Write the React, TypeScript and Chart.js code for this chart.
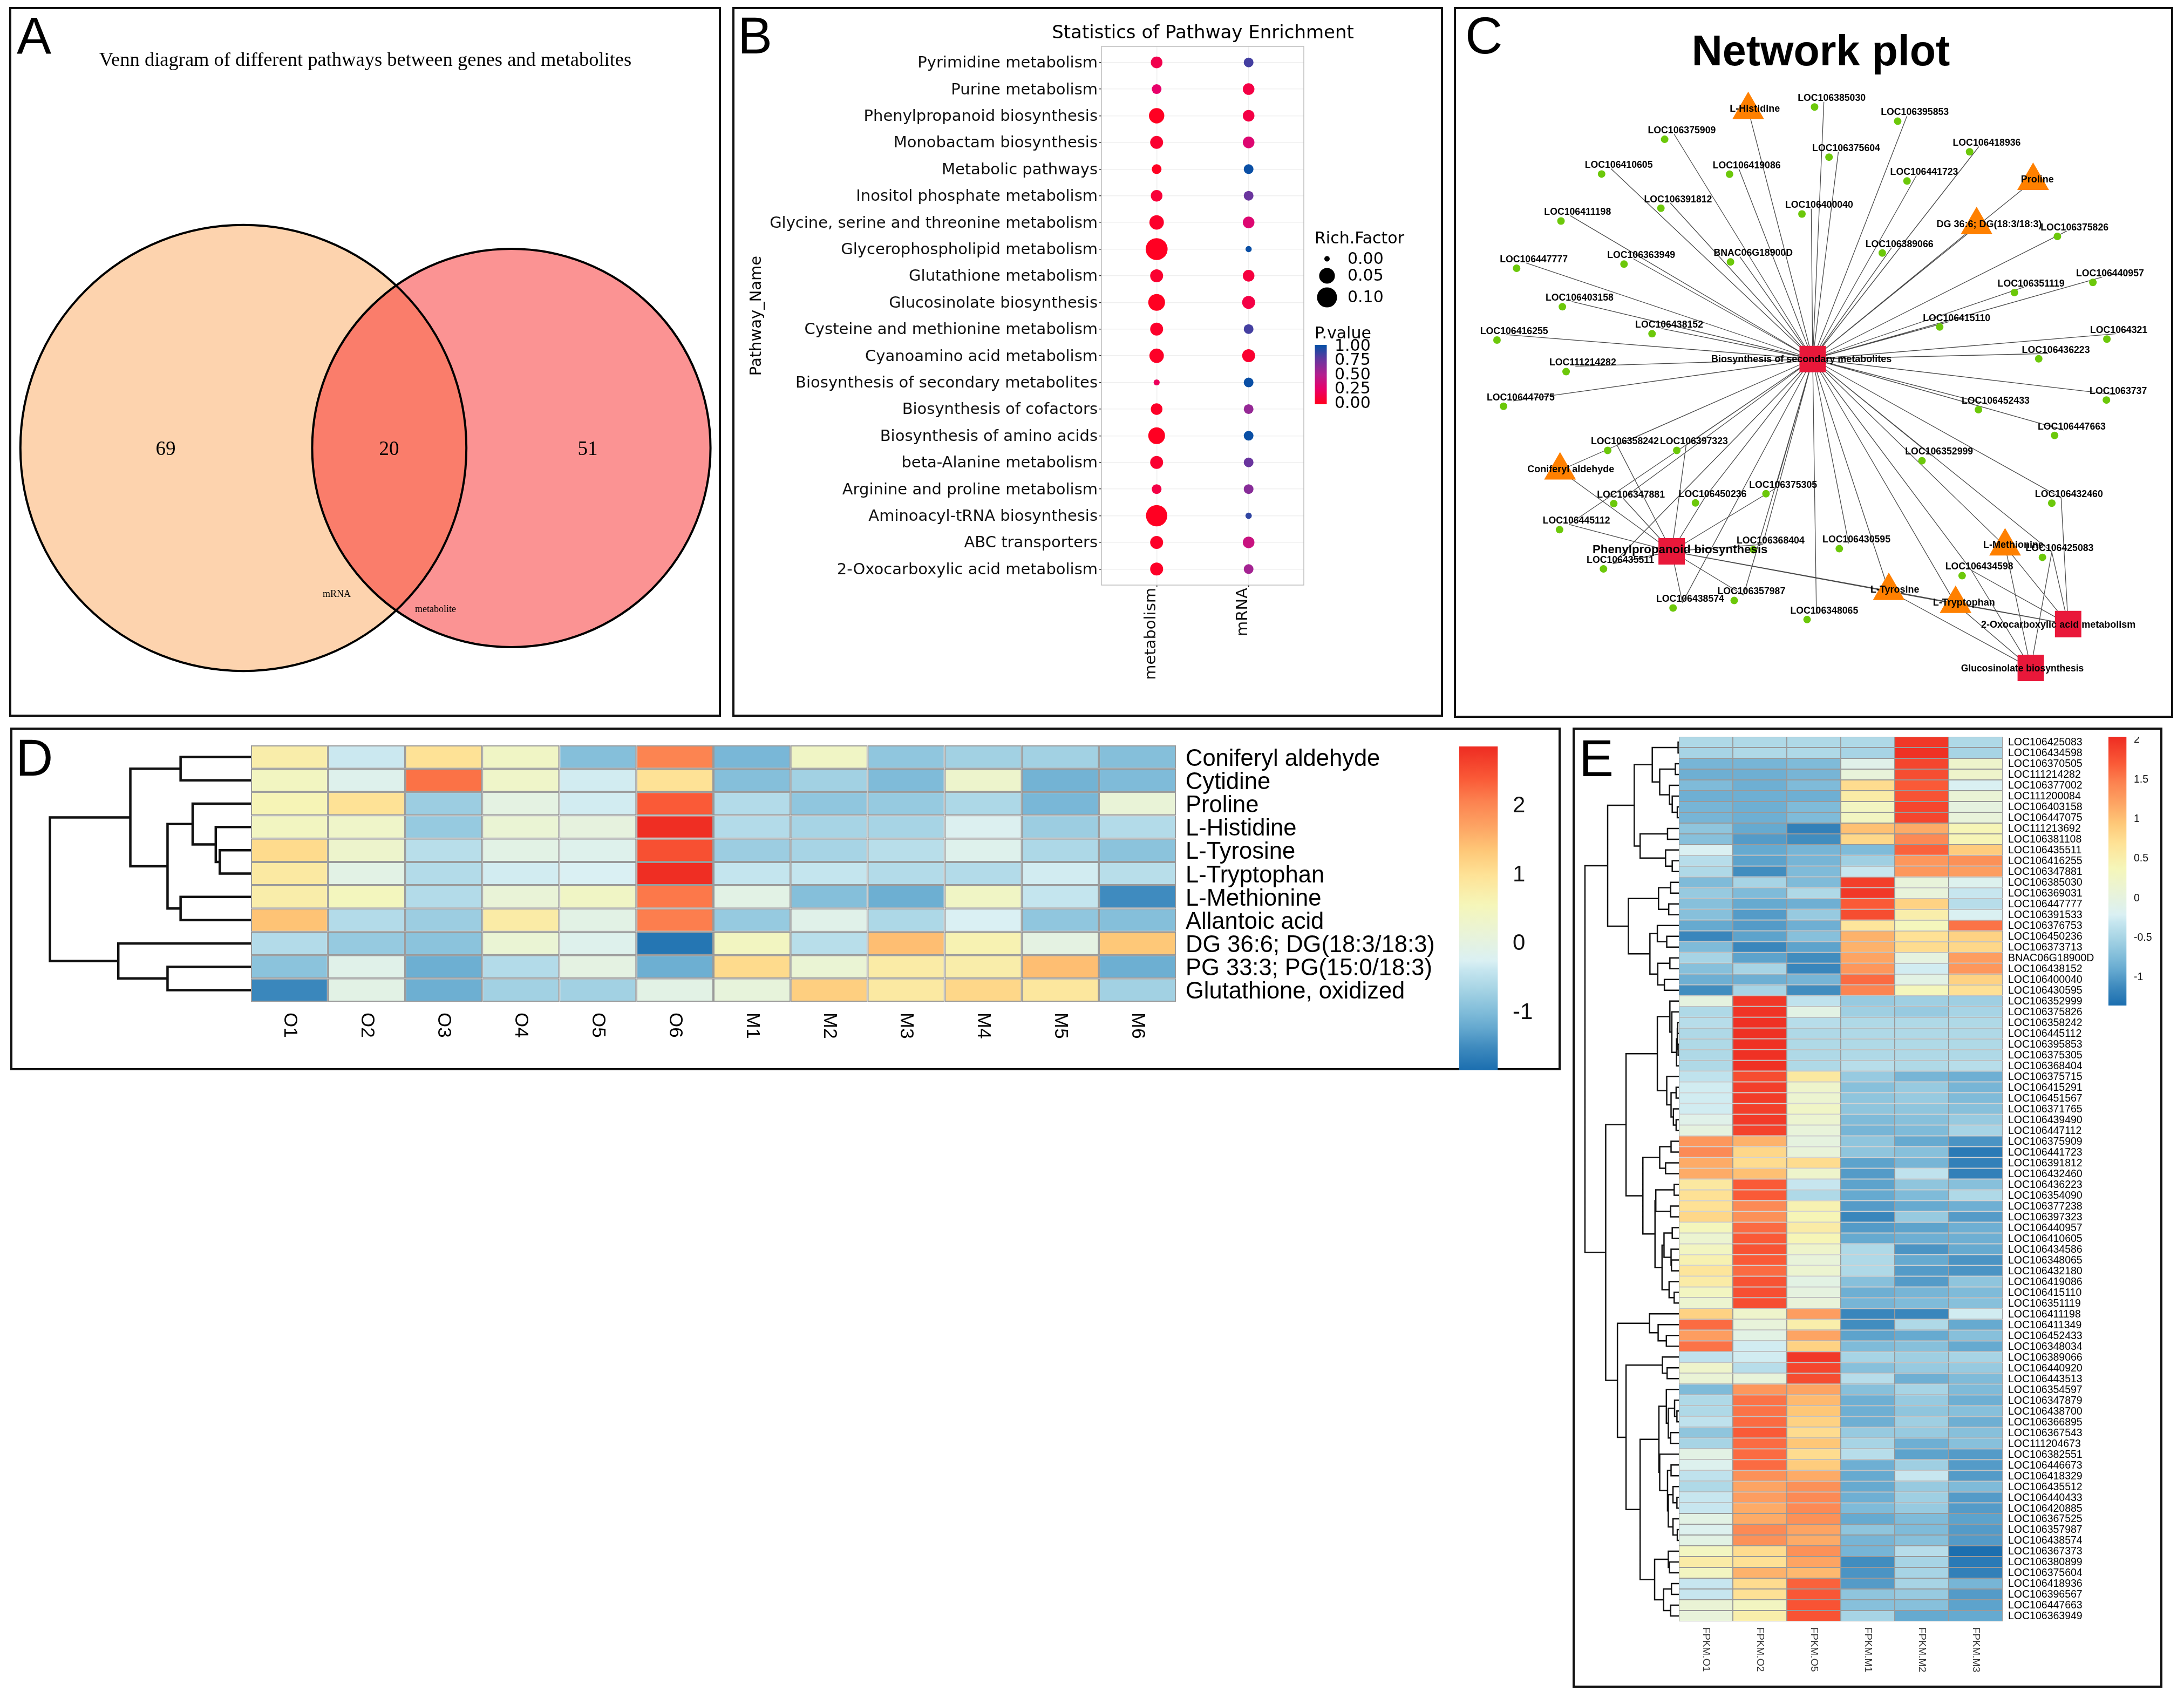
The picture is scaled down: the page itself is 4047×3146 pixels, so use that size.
import React, { useEffect, useRef } from "react";
import { Chart, registerables } from "chart.js";
Chart.register(...registerables);

const SANS = "'Liberation Sans'";
const SERIF = "'Liberation Serif'";
const DEJA = "'DejaVu Sans'";

/* ---------- Panel A ---------- */
const vennSets = [89, 71];
const vennX = [451, 947.5];
const vennY = [830, 830];
const vennOnly = ["69", "20", "51"];

/* ---------- Panel B ---------- */
const pathways = ["Pyrimidine metabolism","Purine metabolism","Phenylpropanoid biosynthesis","Monobactam biosynthesis","Metabolic pathways","Inositol phosphate metabolism","Glycine, serine and threonine metabolism","Glycerophospholipid metabolism","Glutathione metabolism","Glucosinolate biosynthesis","Cysteine and methionine metabolism","Cyanoamino acid metabolism","Biosynthesis of secondary metabolites","Biosynthesis of cofactors","Biosynthesis of amino acids","beta-Alanine metabolism","Arginine and proline metabolism","Aminoacyl-tRNA biosynthesis","ABC transporters","2-Oxocarboxylic acid metabolism"];
const omics = ["metabolism", "mRNA"];
const richMetabolism = [0.018,0.0087,0.046,0.0265,0.0087,0.018,0.038,0.127,0.0265,0.06,0.0265,0.038,0.0002,0.018,0.06,0.0265,0.0087,0.118,0.0265,0.0265];
const richMrna = [0.0087,0.018,0.018,0.018,0.0087,0.0087,0.018,0.0003,0.018,0.0265,0.0087,0.0265,0.0087,0.0087,0.0087,0.0087,0.0087,0.0004,0.018,0.0087];
const pMetabolism = [0.15,0.25,0,0.05,0,0.08,0.03,0,0.05,0,0.03,0.02,0.2,0.02,0,0.05,0.12,0,0.02,0.02];
const pMrna = [0.85,0.12,0.12,0.3,1,0.75,0.3,1,0.1,0.12,0.85,0.05,1,0.6,1,0.75,0.65,0.9,0.4,0.55];
const richLegend = [0, 0.05, 0.1];
const pLegend = [1, 0.75, 0.5, 0.25, 0];

/* ---------- Panel C (layout units) ---------- */
const geneNodes: [string, number, number][] = [
  ["LOC106385030",777,444],["LOC106395853",955,503],["LOC106375909",456,578],["LOC106375604",808,652],["LOC106418936",1109,630],
  ["LOC106410605",321,722],["LOC106419086",595,723],["LOC106441723",975,751],["LOC106391812",448,864],["LOC106400040",750,888],
  ["LOC106411198",234,917],["LOC106375826",1297,981],["LOC106389066",922,1050],["LOC106447777",139,1113],["LOC106363949",369,1096],
  ["BNAC06G18900D",597,1087],["LOC106440957",1373,1172],["LOC106351119",1205,1214],["LOC106403158",237,1273],["LOC106415110",1045,1357],
  ["LOC106438152",429,1385],["LOC106416255",97,1411],["LOC1064321",1403,1407],["LOC106436223",1257,1489],["LOC111214282",245,1542],
  ["LOC1063737",1402,1660],["LOC106447075",111,1686],["LOC106452433",1128,1700],["LOC106447663",1291,1807],["LOC106358242",334,1869],
  ["LOC106397323",482,1869],["LOC106352999",1007,1912],["LOC106375305",673,2049],["LOC106347881",347,2090],["LOC106450236",522,2087],
  ["LOC106432460",1285,2088],["LOC106445112",231,2198],["LOC106368404",646,2281],["LOC106430595",830,2277],["LOC106425083",1265,2313],
  ["LOC106435511",325,2361],["LOC106434598",1093,2389],["LOC106357987",605,2492],["LOC106438574",474,2523],["LOC106348065",761,2571],
];
const metaboliteNodes: [string, number, number, number, number][] = [
  ["L-Histidine",635,456,649,453],["Proline",1245,750,1254,746],["DG 36:6; DG(18:3/18:3)",1124,934,1151,931],
  ["Coniferyl aldehyde",232,1952,255,1948],["L-Methionine",1185,2267,1203,2263],["L-Tyrosine",936,2452,949,2448],["L-Tryptophan",1079,2506,1097,2502],
];
const pathwayNodes: [string, number, number, number, number, number][] = [
  ["Biosynthesis of secondary metabolites",773,1490,749,1492,18],["Phenylpropanoid biosynthesis",471,2288,489,2282,22.3],
  ["2-Oxocarboxylic acid metabolism",1320,2590,1299,2593,18],["Glucosinolate biosynthesis",1240,2772,1222,2775,17.5],
];
const edgesSecondary = ["LOC106385030","LOC106395853","LOC106375909","LOC106375604","LOC106418936","LOC106410605","LOC106419086","LOC106441723","LOC106391812","LOC106400040","LOC106411198","LOC106375826","LOC106389066","LOC106447777","LOC106363949","BNAC06G18900D","LOC106440957","LOC106351119","LOC106403158","LOC106415110","LOC106438152","LOC106416255","LOC1064321","LOC106436223","LOC111214282","LOC1063737","LOC106447075","LOC106452433","LOC106447663","LOC106358242","LOC106397323","LOC106352999","LOC106375305","LOC106347881","LOC106450236","LOC106432460","LOC106445112","LOC106368404","LOC106430595","LOC106425083","LOC106435511","LOC106434598","LOC106357987","LOC106438574","LOC106348065","L-Histidine","Proline","DG 36:6; DG(18:3/18:3)","Coniferyl aldehyde","L-Methionine","L-Tyrosine","L-Tryptophan"];
const edgesPhenyl = ["LOC106358242","LOC106397323","LOC106347881","LOC106450236","LOC106375305","Coniferyl aldehyde","LOC106445112","LOC106435511","LOC106368404","LOC106357987","LOC106438574","L-Tyrosine","L-Tryptophan"];
const edgesOxo = ["L-Tyrosine","L-Tryptophan","L-Methionine","LOC106434598","LOC106425083","LOC106432460"];
const edgesGluco = ["L-Tyrosine","L-Tryptophan","L-Methionine","LOC106425083","LOC106434598"];

/* ---------- Panel D ---------- */
const metabolites = ["Coniferyl aldehyde","Cytidine","Proline","L-Histidine","L-Tyrosine","L-Tryptophan","L-Methionine","Allantoic acid","DG 36:6; DG(18:3/18:3)","PG 33:3; PG(15:0/18:3)","Glutathione, oxidized"];
const samplesD = ["O1","O2","O3","O4","O5","O6","M1","M2","M3","M4","M5","M6"];
const valuesD = [
  [0.75,-0.35,1.0,0.4,-0.95,2.05,-1.05,0.4,-0.85,-0.7,-0.7,-0.95],
  [0.45,-0.15,2.2,0.35,-0.3,1.0,-0.95,-0.7,-1.0,0.3,-1.1,-1.0],
  [0.6,1.0,-0.75,0.0,-0.3,2.4,-0.55,-0.85,-0.8,-0.6,-1.05,0.15],
  [0.45,0.35,-0.8,0.2,0.05,2.85,-0.55,-0.65,-0.65,-0.2,-0.75,-0.55],
  [1.1,0.3,-0.5,-0.05,-0.15,2.5,-0.75,-0.65,-0.5,-0.15,-0.6,-0.9],
  [0.85,-0.05,-0.55,-0.3,-0.25,2.85,-0.4,-0.4,-0.55,-0.55,-0.3,-0.5],
  [0.75,0.5,-0.55,0.15,0.4,2.15,-0.05,-0.95,-1.15,0.4,-0.4,-1.5],
  [1.4,-0.55,-0.75,0.8,-0.05,2.1,-0.8,-0.1,-0.6,-0.25,-0.85,-0.95],
  [-0.55,-0.8,-0.9,0.2,-0.15,-1.75,0.45,-0.5,1.45,0.65,0,1.35],
  [-0.9,-0.1,-1.15,-0.55,0,-1.15,1.1,0.2,0.8,0.75,1.45,-1.15],
  [-1.55,-0.05,-1.15,-0.7,-0.7,-0.05,0.1,1.25,0.85,1.15,0.9,-0.7],
];
const rangeD: [number, number] = [-1.84, 2.87];
const ticksD = [-1, 0, 1, 2];
const treeD: any = [200,[120,[70,0,1],[83,[58,2,[35,3,[31,4,5]]],[70,6,7]]],[132,8,[83,9,10]]];

/* ---------- Panel E ---------- */
const genes = ["LOC106425083","LOC106434598","LOC106370505","LOC111214282","LOC106377002","LOC111200084","LOC106403158","LOC106447075","LOC111213692","LOC106381108","LOC106435511","LOC106416255","LOC106347881","LOC106385030","LOC106369031","LOC106447777","LOC106391533","LOC106376753","LOC106450236","LOC106373713","BNAC06G18900D","LOC106438152","LOC106400040","LOC106430595","LOC106352999","LOC106375826","LOC106358242","LOC106445112","LOC106395853","LOC106375305","LOC106368404","LOC106375715","LOC106415291","LOC106451567","LOC106371765","LOC106439490","LOC106447112","LOC106375909","LOC106441723","LOC106391812","LOC106432460","LOC106436223","LOC106354090","LOC106377238","LOC106397323","LOC106440957","LOC106410605","LOC106434586","LOC106348065","LOC106432180","LOC106419086","LOC106415110","LOC106351119","LOC106411198","LOC106411349","LOC106452433","LOC106348034","LOC106389066","LOC106440920","LOC106443513","LOC106354597","LOC106347879","LOC106438700","LOC106366895","LOC106367543","LOC111204673","LOC106382551","LOC106446673","LOC106418329","LOC106435512","LOC106440433","LOC106420885","LOC106367525","LOC106357987","LOC106438574","LOC106367373","LOC106380899","LOC106375604","LOC106418936","LOC106396567","LOC106447663","LOC106363949"];
const samplesE = ["FPKM.O1","FPKM.O2","FPKM.O5","FPKM.M1","FPKM.M2","FPKM.M3"];
const valuesE = [
[-.45,-.45,-.45,-.45,1.95,-.45],[-.5,-.45,-.45,-.5,2.0,-.5],[-.8,-.8,-.75,-.1,1.85,.2],[-.85,-.85,-.8,.05,1.8,.2],[-.75,-.85,-.75,.75,1.7,-.2],[-.85,-.85,-.85,.55,1.75,.1],[-.8,-.85,-.75,.3,1.85,0],[-.8,-.85,-.75,.3,1.85,.05],
[-.65,-.9,-1.2,1.0,1.15,.4],[-.7,-1.0,-1.1,.8,1.4,.4],[-.2,-.9,-.8,-.75,1.65,.9],[-.4,-.95,-.8,-.55,1.3,1.35],[-.45,-1.1,-.75,-.3,1.3,1.25],
[-.75,-.5,-.75,1.9,.05,-.15],[-.6,-.75,-.45,1.95,.05,-.3],[-.7,-.9,-.85,1.7,.85,-.4],[-.7,-1.0,-.6,1.8,.5,-.2],[-.9,-1.0,-.85,.65,.35,1.55],[-1.15,-.95,-.7,1.1,.7,.85],[-.75,-1.15,-.95,1.1,.75,.8],[-.5,-.95,-1.1,1.2,.0,1.25],[-.7,-.5,-1.15,1.3,-.25,1.3],[-.85,-.85,-.8,1.6,-.05,.85],[-1.1,-.5,-1.1,1.45,.35,.7],
[0,1.95,-.35,-.6,-.55,-.55],[-.45,1.98,-.05,-.55,-.6,-.5],[-.4,2,-.4,-.45,-.45,-.45],[-.45,2,-.45,-.45,-.45,-.45],[-.45,2,-.45,-.45,-.45,-.45],[-.45,2,-.45,-.45,-.45,-.45],[-.45,2,-.45,-.4,-.45,-.4],
[-.35,1.8,.6,-.6,-.8,-.85],[-.25,1.9,.2,-.7,-.6,-.8],[-.25,1.92,.15,-.65,-.6,-.75],[-.25,1.9,.25,-.65,-.65,-.7],[-.1,1.93,.15,-.75,-.7,-.6],[0,1.88,.05,-.8,-.75,-.5],
[1.3,1.1,0,-.65,-.9,-1.05],[1.4,.8,.05,-.65,-.7,-1.25],[1.15,.75,.75,-.95,-.8,-1.2],[1.15,1.0,.2,-1.0,-.35,-1.2],[.6,1.7,-.3,-.95,-.65,-.7],[.7,1.7,-.45,-.9,-.75,-.45],[.7,1.4,.45,-1.0,-.9,-.85],[.8,1.35,.4,-1.15,-.6,-1.0],[.35,1.6,.55,-1.0,-.95,-.85],[.15,1.7,.4,-.9,-.85,-.85],[.3,1.75,.2,-.45,-1.05,-.9],[.45,1.7,.05,-.45,-.9,-1.05],[.65,1.6,.15,-.45,-1.0,-1.05],[.55,1.75,-.05,-.7,-1.0,-.65],[.3,1.78,0,-.85,-.8,-.75],[.15,1.8,.05,-.8,-.75,-.7],
[.85,.2,1.25,-1.15,-1.15,-.25],[1.6,.05,.5,-1.1,-.45,-.9],[1.25,-.05,1.2,-.95,-.9,-.7],[1.55,-.25,.85,-.75,-.7,-.9],[-.35,-.25,1.95,-.5,-.55,-.5],[.2,-.4,1.85,-.7,-.6,-.6],[.1,.05,1.8,-.4,-.85,-.75],
[-.75,1.3,1.2,-.7,-.5,-.75],[-.45,1.55,1.05,-.85,-.6,-.85],[-.45,1.55,.95,-.85,-.65,-.7],[-.35,1.6,.85,-.85,-.55,-.85],[-.65,1.7,.75,-.6,-.6,-.7],[-.5,1.6,.95,-.5,-.85,-.7],[-.05,1.6,.75,-.4,-.95,-1.0],[-.15,1.6,.9,-.85,-.55,-1.0],[-.35,1.35,1.15,-.9,-.3,-1.0],[-.45,1.2,1.35,-.9,-.6,-.75],[-.3,1.25,1.4,-.85,-.55,-1.0],[-.3,1.15,1.4,-.75,-.6,-1.0],[-.05,1.15,1.35,-.9,-.75,-.95],[-.15,1.4,1.2,-.65,-.75,-1.0],[-.05,1.35,1.15,-.8,-.7,-1.0],
[.3,.75,1.35,-.8,-.4,-1.35],[.55,.7,1.2,-1.1,-.5,-1.25],[.3,1.1,1.05,-1.05,-.5,-1.2],[-.3,.75,1.65,-1.0,-.5,-.8],[-.3,.7,1.72,-.65,-.6,-1.0],[.1,.3,1.75,-.7,-.7,-.95],[.05,.5,1.75,-.5,-.9,-.9],
];
const rangeE: [number, number] = [-1.355, 2.04];
const ticksE = [-1, -0.5, 0, 0.5, 1, 1.5, 2];
const treeE: any = [240,
  [182,
    [114,
      [68,[2,0,1],[49,[9,2,3],[24,4,[17,5,[4,6,7]]]]],
      [99,[29,8,9],[34,10,[17,11,12]]]],
    [129,
      [52,[21,13,14],[26,15,16]],
      [74,[55,17,[31,18,19]],[54,[23,20,21],[37,22,23]]]]],
  [187,
    [135,
      [55,[23,24,[18,25,[6,[4,[3,26,27],[2,28,29]],30]]],[31,31,[20,[7,32,33],[14,34,[7,35,36]]]]],
      [92,[49,[20,37,38],[34,39,40]],
        [61,[59,[12,41,42],[21,43,44]],
          [43,[38,[17,45,46],[20,47,[19,48,49]]],[25,50,[12,51,52]]]]]],
    [157,
      [75,53,[53,54,[32,55,56]]],
      [135,
        [42,57,[30,58,59]],
        [99,
          [51,[32,60,[27,[11,61,[5,62,63]],[21,64,65]]],
            [49,66,[29,[20,67,68],[27,[15,69,[5,70,71]],[15,72,[4,73,74]]]]]],
          [62,[27,75,[24,76,77]],[39,[19,78,79],[21,80,81]]]]]]]];

/* ---------- colour helpers ---------- */
const rampStops: [number, number[]][] = [
  [0,[27,110,175]],[0.07,[62,138,190]],[0.13,[100,168,207]],[0.18,[128,188,217]],[0.248,[165,211,228]],[0.31,[198,230,239]],[0.338,[218,240,243]],
  [0.415,[232,243,218]],[0.51,[245,246,185]],[0.603,[254,226,150]],[0.677,[254,200,120]],[0.75,[253,165,100]],[0.83,[252,130,80]],[0.9,[250,90,55]],[1,[238,44,34]],
];
const pStops: [number, number[]][] = [
  [0,[255,0,34]],[0.25,[232,0,106]],[0.5,[178,31,143]],[0.75,[106,53,158]],[1,[10,79,165]],
];
function interp(stops: [number, number[]][], t: number) {
  const v = Math.min(1, Math.max(0, t));
  for (let i = 1; i < stops.length; i++) {
    if (v <= stops[i][0]) {
      const [a, ca] = stops[i - 1];
      const [b, cb] = stops[i];
      const f = (v - a) / (b - a);
      return `rgb(${ca.map((c, k) => Math.round(c + (cb[k] - c) * f)).join(",")})`;
    }
  }
  return `rgb(${stops[stops.length - 1][1].join(",")})`;
}
const heatColor = (v: number, r: [number, number]) => interp(rampStops, (v - r[0]) / (r[1] - r[0]));
const richRadius = (x: number) => 5 + 43 * Math.sqrt(x);

/* ---------- generic text plugin ---------- */
type T = { t: string; x: number; y: number; font: string; color?: string; align?: any; rot?: number; base?: any };
const textPlugin = (items: (c: any) => T[]) => ({
  id: "texts",
  afterDatasetsDraw(c: any) {
    const g = c.ctx;
    for (const i of items(c)) {
      g.save();
      g.translate(i.x, i.y);
      if (i.rot) g.rotate(i.rot);
      g.font = i.font;
      g.fillStyle = i.color || "#000";
      g.textAlign = i.align || "center";
      g.textBaseline = i.base || "middle";
      g.fillText(i.t, 0, 0);
      g.restore();
    }
  },
});

const baseOpts: any = {
  responsive: false,
  animation: false,
  devicePixelRatio: 1,
  events: [],
  layout: { autoPadding: false },
  plugins: { legend: { display: false }, tooltip: { enabled: false }, title: { display: false } },
};
const zeroPad = (s: any) => { s.paddingTop = 0; s.paddingBottom = 0; s.paddingLeft = 0; s.paddingRight = 0; };

/* ---------- Chart specs ---------- */
function vennSpec() {
  const [L, Tp, W, H] = [17, 13, 1319, 1315];
  const k = 43.8;
  const pts = vennSets.map((n, i) => ({ x: vennX[i], y: vennY[i], r: k * Math.sqrt(n) }));
  return {
    left: L, top: Tp, width: W, height: H,
    config: {
      type: "bubble",
      data: { datasets: [
        { data: pts, backgroundColor: "rgba(0,0,0,0)", borderColor: "#000", borderWidth: 4, clip: false },
        { data: [pts[1]], backgroundColor: "rgba(247,39,39,0.5)", borderWidth: 0, clip: false },
        { data: [pts[0]], backgroundColor: "rgb(253,211,174)", borderWidth: 0, clip: false },
      ] },
      options: { ...baseOpts,
        scales: {
          x: { type: "linear", display: false, min: L, max: L + W },
          y: { type: "linear", display: false, min: Tp, max: Tp + H, reverse: true },
        } },
      plugins: [textPlugin(() => [
        { t: "Venn diagram of different pathways between genes and metabolites", x: 677 - L, y: 112 - Tp, font: `36.5px ${SERIF}` },
        { t: vennOnly[0], x: 307 - L, y: 833 - Tp, font: `37px ${SERIF}` },
        { t: vennOnly[1], x: 721 - L, y: 833 - Tp, font: `37px ${SERIF}` },
        { t: vennOnly[2], x: 1089 - L, y: 833 - Tp, font: `37px ${SERIF}` },
        { t: "mRNA", x: 624 - L, y: 1101 - Tp, font: `18px ${SERIF}` },
        { t: "metabolite", x: 807 - L, y: 1129 - Tp, font: `18px ${SERIF}` },
      ])],
    },
  };
}

function dotSpec() {
  const [L, Tp, W, H] = [1357, 13, 1317, 1315];
  const mk = (x: number, rich: number[], p: number[]) => ({
    data: rich.map((r, i) => ({ x, y: i, r: richRadius(r) })),
    backgroundColor: p.map((v) => interp(pStops, v)),
    borderWidth: 0,
    clip: false,
  });
  const frame = {
    id: "frame",
    beforeDatasetsDraw(c: any) {
      const a = c.chartArea;
      c.ctx.save();
      c.ctx.strokeStyle = "#bdbdbd";
      c.ctx.lineWidth = 1.5;
      c.ctx.strokeRect(a.left, a.top, a.right - a.left, a.bottom - a.top);
      c.ctx.restore();
    },
  };
  const legend = {
    id: "dotLegend",
    afterDatasetsDraw(c: any) {
      const g = c.ctx;
      g.save();
      g.fillStyle = "#000";
      const ys = [479.6, 511, 551];
      richLegend.forEach((v, i) => {
        g.beginPath();
        g.arc(2459 - L, ys[i] - Tp, richRadius(v), 0, Math.PI * 2);
        g.fill();
      });
      const top = 641 - Tp, bot = 747 - Tp;
      const gr = g.createLinearGradient(0, bot, 0, top);
      pStops.forEach(([t]) => gr.addColorStop(t, interp(pStops, t)));
      g.fillStyle = gr;
      g.fillRect(2436.5 - L, top - 2, 22, bot - top + 4);
      g.restore();
    },
  };
  const f = `30px ${DEJA}`;
  const pYs = [641, 667, 694, 720.6, 747];
  return {
    left: L, top: Tp, width: W, height: H,
    config: {
      type: "bubble",
      data: { datasets: [mk(0, richMetabolism, pMetabolism), mk(1, richMrna, pMrna)] },
      options: { ...baseOpts,
        layout: { autoPadding: false, padding: { top: 73, right: 258, left: 0, bottom: 0 } },
        scales: {
          x: { type: "linear", min: -0.6, max: 1.6, border: { display: false },
            grid: { color: "#efefef", lineWidth: 1.5, tickLength: 4, tickColor: "#333" },
            afterBuildTicks: (s: any) => { s.ticks = omics.map((_, i) => ({ value: i })); },
            afterFit: (s: any) => { s.height = 244; zeroPad(s); },
            ticks: { autoSkip: false, minRotation: 90, maxRotation: 90, padding: 1, labelOffset: -10, color: "#111", font: { family: "DejaVu Sans", size: 29 }, callback: (v: any) => omics[v] } },
          y: { type: "linear", min: -0.6, max: 19.6, reverse: true, border: { display: false },
            title: { display: true, text: "Pathway_Name", color: "#000", font: { family: "DejaVu Sans", size: 29 }, padding: { top: 28, bottom: 0 } },
            grid: { color: "#efefef", lineWidth: 1.5, tickLength: 4, tickColor: "#333" },
            afterBuildTicks: (s: any) => { s.ticks = pathways.map((_, i) => ({ value: i })); },
            afterFit: (s: any) => { s.width = 684; zeroPad(s); },
            ticks: { autoSkip: false, padding: 3, labelOffset: 2, color: "#111", font: { family: "DejaVu Sans", size: 29 }, callback: (v: any) => pathways[v] } },
        } },
      plugins: [frame, legend, textPlugin(() => [
        { t: "Statistics of Pathway Enrichment", x: 2229 - L, y: 62 - Tp, font: `34px ${DEJA}` },
        { t: "Rich.Factor", x: 2436 - L, y: 443 - Tp, font: f, align: "left" },
        ...richLegend.map((v, i) => ({ t: v.toFixed(2), x: 2497 - L, y: [481, 512, 552][i] - Tp, font: f, align: "left" })),
        { t: "P.value", x: 2436 - L, y: 619 - Tp, font: f, align: "left" },
        ...pLegend.map((v, i) => ({ t: v.toFixed(2), x: 2473 - L, y: pYs[i] + 1 - Tp, font: f, align: "left" })),
      ])],
    },
  };
}

function networkSpec() {
  const [L, Tp, W, H] = [2694, 13, 1333, 1317];
  const anchors: Record<string, [number, number]> = {};
  geneNodes.forEach(([n, x, y]) => { anchors[n] = [x + 20, y - 22]; });
  metaboliteNodes.forEach(([n, x, y]) => { anchors[n] = [x, y]; });
  const edgePts: any[] = [];
  const addEdges = (hub: number, list: string[]) => {
    const [, hx, hy] = pathwayNodes[hub];
    list.forEach((n) => {
      const [ax, ay] = anchors[n];
      edgePts.push({ x: hx, y: hy }, { x: ax, y: ay }, { x: NaN, y: NaN });
    });
  };
  addEdges(0, edgesSecondary);
  addEdges(1, edgesPhenyl);
  addEdges(2, edgesOxo);
  addEdges(3, edgesGluco);
  const bold = (s: number) => `bold ${s}px ${SANS}`;
  return {
    left: L, top: Tp, width: W, height: H,
    config: {
      type: "scatter",
      data: { datasets: [
        { data: geneNodes.map(([, x, y]) => ({ x, y })), pointStyle: "circle", pointRadius: 7, pointBackgroundColor: "#6CC80A", pointBorderWidth: 0, clip: false },
        { data: pathwayNodes.map(([, x, y]) => ({ x, y })), pointStyle: "rect", pointRadius: 34.6, pointBackgroundColor: "#E9183A", pointBorderWidth: 0, clip: false },
        { data: metaboliteNodes.map(([, x, y]) => ({ x, y })), pointStyle: "triangle", pointRadius: 34, pointBackgroundColor: "#FF8000", pointBorderWidth: 0, clip: false },
        { data: edgePts, showLine: true, spanGaps: false, pointRadius: 0, borderColor: "#4a4a4a", borderWidth: 1.3, clip: false },
      ] },
      options: { ...baseOpts,
        scales: {
          x: { type: "linear", display: false, min: 4.6, max: 1545 },
          y: { type: "linear", display: false, min: 29, max: 2979, reverse: true },
        } },
      plugins: [textPlugin((c: any) => {
        const X = (v: number) => c.scales.x.getPixelForValue(v);
        const Y = (v: number) => c.scales.y.getPixelForValue(v);
        return [
          { t: "Network plot", x: 3374 - L, y: 99 - Tp, font: bold(79) },
          ...geneNodes.map(([n, x, y]) => ({ t: n, x: X(x - 36), y: Y(y - 36), font: bold(17.7), align: "left" })),
          ...metaboliteNodes.map(([n, , , lx, ly]) => ({ t: n, x: X(lx), y: Y(ly), font: bold(18) })),
          ...pathwayNodes.map(([n, , , lx, ly, s]) => ({ t: n, x: X(lx), y: Y(ly), font: bold(s) })),
        ];
      })],
    },
  };
}

function heatSpec(o: { left: number; top: number; plotW: number; plotH: number; axisW: number; extra: number; rows: string[]; cols: string[]; values: number[][]; range: [number, number]; border: number; font: number; pad: number; lift: number; colFont: number; colGap: number; colColor: string; }) {
  return {
    left: o.left, top: o.top, width: o.plotW + o.axisW, height: o.plotH + o.extra,
    config: {
      type: "bar",
      data: {
        labels: o.rows,
        datasets: o.cols.map((c, j) => ({
          label: c,
          data: o.rows.map(() => 1),
          backgroundColor: o.values.map((r) => heatColor(r[j], o.range)),
          borderColor: "#9a9a9a",
          borderWidth: o.border,
          borderSkipped: false,
          barPercentage: 1,
          categoryPercentage: 1,
          inflateAmount: 0,
          clip: false,
        })),
      },
      options: { ...baseOpts,
        indexAxis: "y",
        layout: { autoPadding: false, padding: { bottom: o.extra, left: 0, right: 0, top: 0 } },
        scales: {
          x: { type: "linear", display: false, stacked: true, min: 0, max: o.cols.length },
          y: { type: "category", position: "right", stacked: true, offset: true,
            border: { display: false },
            grid: { display: false, drawTicks: false },
            afterFit: (s: any) => { s.width = o.axisW; zeroPad(s); },
            ticks: { autoSkip: false, padding: o.pad, labelOffset: o.lift, color: "#000", font: { family: "Liberation Sans", size: o.font } } },
        } },
      plugins: [textPlugin((c: any) => o.cols.map((n, j) => ({
        t: n, x: c.scales.x.getPixelForValue(j + 0.5), y: o.plotH + o.colGap,
        font: `${o.colFont}px ${SANS}`, color: o.colColor, align: "left", rot: Math.PI / 2,
      })))],
    },
  };
}

function treeSegments(tree: any) {
  const pts: any[] = [];
  const walk = (n: any): { h: number; y: number } => {
    if (typeof n === "number") return { h: 0, y: n + 0.5 };
    const a = walk(n[1]);
    const b = walk(n[2]);
    pts.push({ x: a.h, y: a.y }, { x: n[0], y: a.y }, { x: n[0], y: b.y }, { x: b.h, y: b.y }, { x: NaN, y: NaN });
    return { h: n[0], y: (a.y + b.y) / 2 };
  };
  walk(tree);
  return pts;
}

function treeSpec(o: { left: number; top: number; width: number; height: number; tree: any; n: number; unitsPerPx: number; lw: number }) {
  return {
    left: o.left, top: o.top, width: o.width, height: o.height,
    config: {
      type: "scatter",
      data: { datasets: [{ data: treeSegments(o.tree), showLine: true, spanGaps: false, pointRadius: 0, borderColor: "#111", borderWidth: o.lw, borderCapStyle: "square", clip: false }] },
      options: { ...baseOpts,
        scales: {
          x: { type: "linear", display: false, min: 0, max: o.width * o.unitsPerPx, reverse: true },
          y: { type: "linear", display: false, min: 0, max: o.n, reverse: true },
        } },
    },
  };
}

function barSpec(o: { left: number; top: number; barW: number; axisW: number; height: number; range: [number, number]; ticks: number[]; font: number; pad: number }) {
  const bg = (ctx: any) => {
    const a = ctx.chart.chartArea;
    if (!a) return "#888";
    const g = ctx.chart.ctx.createLinearGradient(0, a.bottom, 0, a.top);
    rampStops.forEach(([t]) => g.addColorStop(t, interp(rampStops, t)));
    return g;
  };
  return {
    left: o.left, top: o.top, width: o.barW + o.axisW, height: o.height,
    config: {
      type: "bar",
      data: { labels: ["scale"], datasets: [{ data: [o.range], backgroundColor: bg, barPercentage: 1, categoryPercentage: 1, borderWidth: 0, clip: false }] },
      options: { ...baseOpts,
        scales: {
          x: { type: "category", display: false },
          y: { type: "linear", position: "right", min: o.range[0], max: o.range[1],
            border: { display: false }, grid: { display: false, drawTicks: false },
            afterBuildTicks: (s: any) => { s.ticks = o.ticks.map((value) => ({ value })); },
            afterFit: (s: any) => { s.width = o.axisW; zeroPad(s); },
            ticks: { autoSkip: false, padding: o.pad, color: "#111", font: { family: "Liberation Sans", size: o.font }, callback: (v: any) => String(v) } },
        } },
    },
  };
}

const specs = () => [
  vennSpec(),
  dotSpec(),
  networkSpec(),
  treeSpec({ left: 60, top: 1381, width: 405, height: 475, tree: treeD, n: metabolites.length, unitsPerPx: 0.537, lw: 4.5 }),
  heatSpec({ left: 465, top: 1381, plotW: 1714, plotH: 475, axisW: 521, extra: 100, rows: metabolites, cols: samplesD, values: valuesD, range: rangeD, border: 2, font: 43.5, pad: 18, lift: 4, colFont: 35, colGap: 20, colColor: "#000" }),
  barSpec({ left: 2704, top: 1383, barW: 71, axisW: 90, height: 600, range: rangeD, ticks: ticksD, font: 42, pad: 28 }),
  treeSpec({ left: 2925, top: 1365, width: 186, height: 1639, tree: treeE, n: genes.length, unitsPerPx: 1.379, lw: 2.5 }),
  heatSpec({ left: 3111, top: 1365, plotW: 600, plotH: 1639, axisW: 190, extra: 110, rows: genes, cols: samplesE, values: valuesE, range: rangeE, border: 1, font: 19.5, pad: 10, lift: 1, colFont: 18.8, colGap: 11, colColor: "#333" }),
  barSpec({ left: 3907, top: 1365, barW: 33, axisW: 60, height: 498, range: rangeE, ticks: ticksE, font: 19.5, pad: 14 }),
];

const frames = [
  [17, 13, 1319, 1315],
  [1357, 13, 1317, 1315],
  [2694, 13, 1333, 1317],
  [19, 1348, 2873, 635],
  [2914, 1348, 1093, 1779],
];
const letters: [string, number, number][] = [["A", 31, 17.5], ["B", 1367, 17.5], ["C", 2715, 17.5], ["D", 29, 1356], ["E", 2926, 1357]];

export default function App() {
  const holder = useRef<HTMLDivElement>(null);
  useEffect(() => {
    document.body.style.margin = "0";
    document.body.style.background = "#fff";
    const charts: Chart[] = [];
    const host = holder.current!;
    const made: HTMLCanvasElement[] = [];
    specs().forEach((s: any) => {
      const cv = document.createElement("canvas");
      cv.width = s.width;
      cv.height = s.height;
      cv.style.cssText = `position:absolute;left:${s.left}px;top:${s.top}px;width:${s.width}px;height:${s.height}px;`;
      host.appendChild(cv);
      made.push(cv);
      charts.push(new Chart(cv, s.config));
    });
    return () => {
      charts.forEach((c) => c.destroy());
      made.forEach((c) => c.remove());
    };
  }, []);
  return (
    <div ref={holder} style={{ position: "absolute", left: 0, top: 0, width: 4047, height: 3146, overflow: "hidden", background: "#fff" }}>
      {frames.map((f, i) => (
        <div key={i} style={{ position: "absolute", left: f[0], top: f[1], width: f[2], height: f[3], boxSizing: "border-box", border: "4px solid #111" }} />
      ))}
      {letters.map(([t, x, y]) => (
        <div key={t} style={{ position: "absolute", left: x, top: y, font: `96px/96px ${SANS}`, color: "#000", zIndex: 5 }}>{t}</div>
      ))}
    </div>
  );
}
